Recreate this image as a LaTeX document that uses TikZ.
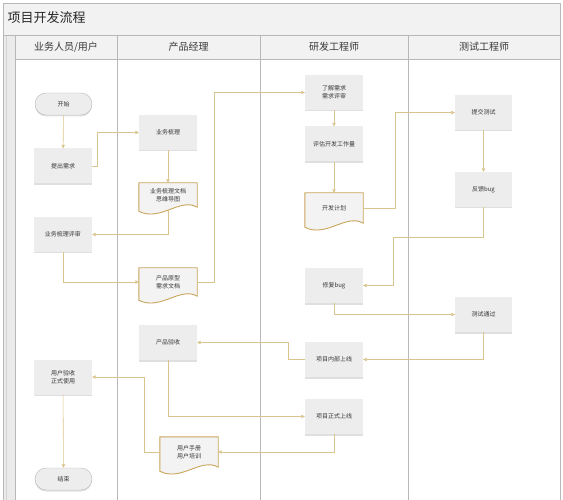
\documentclass[tikz,border=0pt]{standalone}
\usepackage{fontspec}
\setmainfont{Noto Sans CJK SC}
\usetikzlibrary{arrows.meta,shadows}
\definecolor{boxgray}{HTML}{EDEDED}
\definecolor{docfill}{HTML}{F3F3F3}
\definecolor{linetan}{HTML}{D8C48C}
\definecolor{docgold}{HTML}{C9A55A}
\definecolor{lanegray}{HTML}{B8B8B8}
\definecolor{bandgray}{HTML}{F2F2F2}
\definecolor{textgray}{HTML}{383838}
\newcommand{\docshape}[1]{%
  \filldraw[draw=docgold,fill=docfill,line width=0.9pt]
    (#1.north west) -- (#1.north east) -- (#1.south east)
    .. controls +(-17,-10) and +(21,11) .. ([yshift=-4pt]#1.south west) -- cycle;}
\begin{document}
\begin{tikzpicture}[x=1pt,y=-1pt,
    box/.style={fill=boxgray,minimum width=58,minimum height=35,inner sep=1pt,
        align=center,text=textgray,font=\fontsize{6}{8}\selectfont,
        drop shadow={shadow xshift=0pt,shadow yshift=-1.5pt,opacity=0.25}},
    term/.style={box,draw=lanegray,rounded corners=11pt,minimum width=57,minimum height=22},
    doc/.style={minimum width=58,inner sep=1pt,align=center,text=textgray,
        font=\fontsize{6}{8}\selectfont},
    lane/.style={font=\fontsize{10}{12}\selectfont,text=textgray},
    flow/.style={draw=linetan,line width=0.6pt,-{Triangle[length=3.5pt,width=3.5pt]}}]
  \useasboundingbox (0,0) rectangle (563,500);
  \fill[bandgray] (3,3) rectangle (560,35);
  \fill[black!8] (3,35) rectangle (15,500);
  \fill[black!5] (15,35) rectangle (560,59);
  \draw[lanegray] (3,500) -- (3,3) -- (560,3) -- (560,500);
  \draw[lanegray!60] (6,35) -- (6,500);
  \draw[lanegray] (3,35) -- (560,35);
  \draw[lanegray] (15,59) -- (560,59);
  \draw[lanegray] (15,35) -- (15,500);
  \draw[lanegray] (117,35) -- (117,500);
  \draw[lanegray] (260,35) -- (260,500);
  \draw[lanegray] (408,35) -- (408,500);
  \node[anchor=west,font=\fontsize{13}{15}\selectfont,text=black!85] (title) at (4,18) {项目开发流程};
  \node[lane] (laneA) at (66,47) {业务人员/用户};
  \node[lane] (laneB) at (188.5,47) {产品经理};
  \node[lane] (laneC) at (334,47) {研发工程师};
  \node[lane] (laneD) at (484,47) {测试工程师};
  \node[term] (start) at (63.5,104) {开始};
  \node[box] (tiqiu) at (63,166) {提出需求};
  \node[box] (shuli) at (168,132.5) {业务梳理};
  \node[doc,minimum height=24] (docA) at (168,195) {};
  \node[box] (pingshen) at (63,234.5) {业务梳理评审};
  \node[doc,minimum height=28] (docB) at (168,282) {};
  \node[box] (liaojie) at (334,92.5) {了解需求\\需求评审};
  \node[box] (pinggu) at (334,144) {评估开发工作量};
  \node[doc,minimum height=30] (docC) at (334,208) {};
  \node[box,minimum width=57] (tijiao) at (483.5,112.5) {提交测试};
  \node[box,minimum width=57] (fankui) at (483.5,189.5) {反馈bug};
  \node[box] (xiufu) at (334,285.5) {修复bug};
  \node[box,minimum width=57] (tongguo) at (483.5,314.5) {测试通过};
  \node[box] (neibu) at (334,359.5) {项目内部上线};
  \node[box] (yanshou) at (168,342.5) {产品验收};
  \node[box] (zhengshi) at (334,416.5) {项目正式上线};
  \node[doc,minimum height=30] (docD) at (189,452) {};
  \node[box] (yonghu) at (63,377) {用户验收\\正式使用};
  \node[term] (jieshu) at (63.5,479) {结束};
  \docshape{docA}
  \docshape{docB}
  \docshape{docC}
  \docshape{docD}
  \node[doc] at (docA) {业务梳理文档\\思维导图};
  \node[doc] at (docB) {产品原型\\需求文档};
  \node[doc] at (docC) {开发计划};
  \node[doc] at (docD) {用户手册\\用户培训};
  \path
  (start) edge [flow] (tiqiu)
  (shuli) edge [flow] (docA)
  (liaojie) edge [flow] (pinggu)
  (pinggu) edge [flow] (docC)
  (tijiao) edge [flow] (fankui)
  (yonghu) edge [flow] (jieshu);
  \draw[flow] (tiqiu.east) -- ++(5,0) |- (shuli.west);
  \draw[flow] ([yshift=-3pt]docA.south) |- (pingshen.east);
  \draw[flow] (pingshen.south) |- (docB.west);
  \draw[flow] (docB.east) -- ++(17,0) |- (liaojie.west);
  \draw[flow] (docC.east) -- ++(32,0) |- (tijiao.west);
  \draw[flow] (fankui.south) -- ++(0,30) -- ++(-90.5,0) |- (xiufu.east);
  \draw[flow] (xiufu.south) |- (tongguo.west);
  \draw[flow] (tongguo.south) |- (neibu.east);
  \draw[flow] (neibu.west) -- ++(-17,0) |- (yanshou.east);
  \draw[flow] (yanshou.south) |- (zhengshi.west);
  \draw[flow] (zhengshi.south) |- (docD.east);
  \draw[flow] (docD.west) -- ++(-16,0) |- (yonghu.east);
\end{tikzpicture}
\end{document}
